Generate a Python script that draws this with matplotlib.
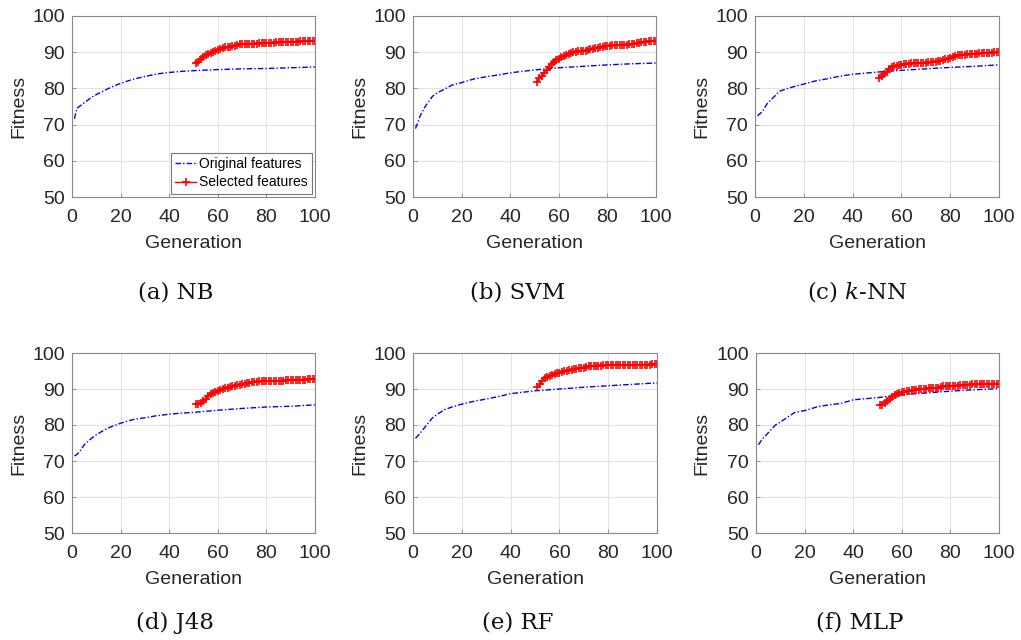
import matplotlib
matplotlib.use('Agg')
import matplotlib.pyplot as plt

plt.rcParams['font.family'] = ['Liberation Sans', 'DejaVu Sans']
plt.rcParams['mathtext.fontset'] = 'dejavuserif'

# generations sampled for the original-feature curves
gen_orig = [1, 2, 3, 5, 8, 10, 13, 16, 20, 25, 30, 35, 40, 45, 50, 60, 70, 80, 90, 100]
# selected-feature curves run from generation 51 to 100
gen_sel = list(range(51, 101))

orig_nb = [71.6, 74.5, 75.0, 76.0, 77.5, 78.3, 79.3, 80.3, 81.4, 82.5, 83.3, 84.0, 84.4, 84.7, 84.9, 85.2, 85.4, 85.5, 85.7, 85.9]
orig_svm = [68.9, 70.5, 72.5, 75.0, 77.8, 78.8, 79.8, 80.9, 81.6, 82.6, 83.2, 83.7, 84.3, 84.7, 85.1, 85.7, 86.1, 86.5, 86.8, 87.0]
orig_knn = [72.4, 73.0, 73.6, 75.8, 77.8, 79.2, 79.9, 80.5, 81.2, 82.1, 82.7, 83.4, 83.9, 84.2, 84.5, 85.0, 85.4, 85.8, 86.1, 86.5]
orig_j48 = [71.4, 71.8, 72.5, 74.5, 76.3, 77.3, 78.5, 79.5, 80.5, 81.5, 82.0, 82.6, 83.0, 83.3, 83.5, 84.1, 84.6, 85.0, 85.2, 85.6]
orig_rf = [76.3, 77.0, 77.8, 79.5, 82.0, 83.0, 84.3, 85.0, 85.8, 86.6, 87.2, 87.9, 88.7, 89.1, 89.5, 90.0, 90.5, 90.9, 91.3, 91.7]
orig_mlp = [74.5, 75.5, 76.4, 77.8, 80.0, 80.8, 82.2, 83.5, 84.0, 85.0, 85.6, 86.0, 87.0, 87.3, 87.6, 88.4, 88.9, 89.4, 89.8, 90.1]

sel_nb = [87.1, 87.3, 88.0, 88.6, 89.1, 89.4, 89.7, 90.0, 90.3, 90.5,
          90.8, 91.1, 91.3, 91.4, 91.5, 91.6, 91.7, 91.9, 92.3, 92.4,
          92.4, 92.4, 92.4, 92.4, 92.4, 92.4, 92.5, 92.5, 92.5, 92.6,
          92.6, 92.6, 92.6, 92.7, 92.7, 92.7, 92.7, 92.7, 92.8, 92.8,
          92.8, 92.9, 92.9, 93.0, 93.1, 93.1, 93.1, 93.2, 93.2, 93.2]
sel_svm = [81.9, 82.8, 83.5, 84.3, 85.1, 86.0, 86.8, 87.4, 87.9, 88.2,
           88.6, 88.9, 89.3, 89.6, 89.9, 90.0, 90.1, 90.2, 90.2, 90.2,
           90.3, 90.6, 90.9, 91.0, 91.1, 91.2, 91.3, 91.5, 91.7, 91.8,
           91.8, 91.9, 91.9, 92.0, 92.0, 92.0, 92.1, 92.1, 92.2, 92.3,
           92.4, 92.5, 92.6, 92.7, 92.8, 92.9, 93.0, 93.0, 93.0, 93.1]
sel_knn = [82.8, 83.4, 84.0, 84.6, 85.4, 86.0, 86.1, 86.3, 86.5, 86.6,
           86.7, 86.8, 86.8, 86.9, 86.9, 86.9, 87.0, 87.0, 87.1, 87.1,
           87.2, 87.2, 87.3, 87.4, 87.5, 87.7, 87.9, 88.0, 88.2, 88.5,
           88.8, 89.0, 89.1, 89.2, 89.3, 89.3, 89.4, 89.4, 89.5, 89.6,
           89.6, 89.7, 89.7, 89.8, 89.8, 89.9, 89.9, 90.0, 90.0, 90.0]
sel_j48 = [85.7, 85.8, 86.0, 86.6, 87.3, 88.0, 88.5, 88.9, 89.2, 89.5,
           89.7, 90.0, 90.2, 90.4, 90.6, 90.8, 90.9, 91.0, 91.1, 91.3,
           91.5, 91.6, 91.8, 91.9, 92.0, 92.0, 92.1, 92.1, 92.1, 92.1,
           92.2, 92.2, 92.2, 92.2, 92.3, 92.3, 92.3, 92.4, 92.4, 92.4,
           92.5, 92.5, 92.6, 92.6, 92.6, 92.6, 92.7, 92.7, 92.7, 92.7]
sel_rf = [90.5, 91.5, 92.3, 93.0, 93.3, 93.5, 93.9, 94.2, 94.4, 94.5,
          94.7, 94.9, 95.0, 95.2, 95.4, 95.5, 95.6, 95.7, 95.8, 95.8,
          96.0, 96.3, 96.4, 96.5, 96.5, 96.5, 96.5, 96.6, 96.6, 96.6,
          96.6, 96.6, 96.6, 96.6, 96.6, 96.6, 96.6, 96.7, 96.7, 96.7,
          96.7, 96.7, 96.8, 96.8, 96.8, 96.8, 96.8, 96.9, 96.9, 96.9]
sel_mlp = [85.5, 85.6, 86.0, 86.6, 87.2, 87.7, 88.2, 88.6, 89.0, 89.2,
           89.3, 89.4, 89.5, 89.6, 89.7, 89.8, 89.9, 90.0, 90.1, 90.1,
           90.2, 90.2, 90.3, 90.3, 90.4, 90.5, 90.7, 90.7, 90.8, 90.8,
           90.8, 90.9, 90.9, 91.0, 91.0, 91.1, 91.2, 91.2, 91.3, 91.3,
           91.4, 91.4, 91.4, 91.4, 91.4, 91.4, 91.5, 91.5, 91.5, 91.5]

captions = ['(a) NB', '(b) SVM', '(c) $k$-NN', '(d) J48', '(e) RF', '(f) MLP']
origs = [orig_nb, orig_svm, orig_knn, orig_j48, orig_rf, orig_mlp]
sels = [sel_nb, sel_svm, sel_knn, sel_j48, sel_rf, sel_mlp]

W, H = 1021, 640
fig = plt.figure(figsize=(W / 100, H / 100), dpi=100)

# axes boxes in pixels: left, top, right, bottom
boxes = [(72, 16, 315, 197), (413, 16, 656, 197), (755, 16, 999, 197),
         (72, 353, 315, 533), (413, 353, 657, 533), (756, 353, 999, 533)]
caption_pos = [(176, 292), (518, 292), (857, 292), (175, 623), (518, 623), (860, 623)]

for i in range(6):
    l, t, r, b = boxes[i]
    ax = fig.add_axes([l / W, 1 - b / H, (r - l) / W, (b - t) / H])
    ax.plot(gen_orig, origs[i], color='#0000ff', lw=1.0, dashes=(4, 1.5, 1, 1.5),
            label='Original features')
    ax.plot(gen_sel, sels[i], '-', color='#ff0000', lw=1.0, marker='+',
            markersize=6, mew=1.2, label='Selected features')
    ax.set_xlim(0, 100)
    ax.set_ylim(50, 100)
    ax.set_xticks([0, 20, 40, 60, 80, 100])
    ax.set_yticks([50, 60, 70, 80, 90, 100])
    ax.grid(True, color='#e3e3e3', lw=0.8)
    ax.set_axisbelow(True)
    ax.tick_params(direction='in', length=3, width=0.6, colors='#888888',
                   labelcolor='#262626', labelsize=14)
    ax.tick_params(axis='x', pad=9)
    ax.tick_params(axis='y', pad=5)
    for s in ax.spines.values():
        s.set_color('#888888')
        s.set_linewidth(0.8)
    ax.set_xlabel('Generation', fontsize=14, color='#262626', labelpad=6)
    ax.set_ylabel('Fitness', fontsize=14, color='#262626', labelpad=4)
    if i == 0:
        leg = ax.legend(loc='lower right', fontsize=10, frameon=True, fancybox=False,
                        handlelength=1.5, handletextpad=0.2, borderpad=0.3,
                        labelspacing=0.3, borderaxespad=0.25)
        leg.get_frame().set_edgecolor('#555555')
        leg.get_frame().set_linewidth(0.8)
    x, y = caption_pos[i]
    fig.text(x / W, 1 - y / H, captions[i], ha='center', va='center',
             fontsize=16.5, family='DejaVu Serif', color='#111111')

fig.savefig('out.png', dpi=100)
